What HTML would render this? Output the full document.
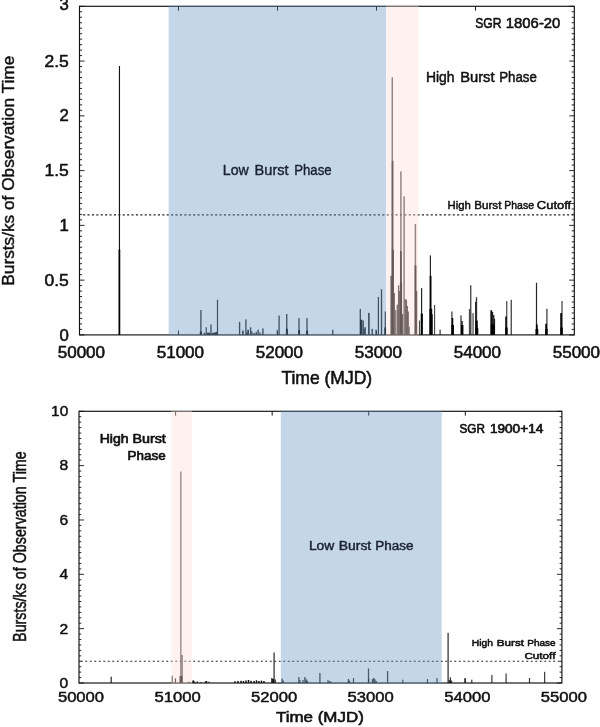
<!DOCTYPE html>
<html lang="en"><head><meta charset="utf-8"><title>SGR burst rate history</title>
<style>html,body{margin:0;padding:0;background:#fff}body{width:600px;height:727px;overflow:hidden}svg{display:block;filter:blur(0.45px)}text{font-family:"Liberation Sans",Arial,Helvetica,sans-serif}</style></head><body>
<svg width="600" height="727" viewBox="0 0 600 727">
<rect width="600" height="727" fill="#fff"/>
<g id="top-chart">
<g id="top-spikes">
<rect x="118.88" y="66.00" width="1.15" height="268.90" fill="#000" fill-opacity="0.92"/>
<rect x="118.55" y="249.50" width="1.70" height="85.40" fill="#000" fill-opacity="0.95"/>
<rect x="200.25" y="310.00" width="1.30" height="24.90" fill="#000" fill-opacity="0.85"/>
<rect x="199.80" y="331.50" width="2.20" height="3.40" fill="#000" fill-opacity="0.95"/>
<rect x="205.65" y="327.25" width="1.20" height="7.65" fill="#000" fill-opacity="0.85"/>
<rect x="210.35" y="324.40" width="1.30" height="10.50" fill="#000" fill-opacity="0.85"/>
<rect x="216.90" y="299.75" width="1.20" height="35.15" fill="#000" fill-opacity="0.85"/>
<rect x="203.75" y="332.80" width="1.50" height="2.10" fill="#000" fill-opacity="0.95"/>
<rect x="207.10" y="332.60" width="2.40" height="2.30" fill="#000" fill-opacity="0.95"/>
<rect x="209.00" y="333.00" width="1.60" height="1.90" fill="#000" fill-opacity="0.95"/>
<rect x="212.10" y="332.80" width="2.20" height="2.10" fill="#000" fill-opacity="0.95"/>
<rect x="214.20" y="332.40" width="2.20" height="2.50" fill="#000" fill-opacity="0.95"/>
<rect x="215.90" y="331.80" width="1.40" height="3.10" fill="#000" fill-opacity="0.85"/>
<rect x="238.95" y="321.90" width="1.30" height="13.00" fill="#000" fill-opacity="0.85"/>
<rect x="242.15" y="330.60" width="1.50" height="4.30" fill="#000" fill-opacity="0.95"/>
<rect x="245.25" y="319.40" width="1.30" height="15.50" fill="#000" fill-opacity="0.85"/>
<rect x="247.30" y="329.75" width="1.60" height="5.15" fill="#000" fill-opacity="0.95"/>
<rect x="249.95" y="327.25" width="1.30" height="7.65" fill="#000" fill-opacity="0.85"/>
<rect x="251.30" y="331.25" width="1.20" height="3.65" fill="#000" fill-opacity="0.85"/>
<rect x="253.50" y="333.00" width="1.40" height="1.90" fill="#000" fill-opacity="0.85"/>
<rect x="255.60" y="331.90" width="1.30" height="3.00" fill="#000" fill-opacity="0.85"/>
<rect x="257.40" y="329.75" width="1.40" height="5.15" fill="#000" fill-opacity="0.85"/>
<rect x="259.35" y="332.50" width="1.30" height="2.40" fill="#000" fill-opacity="0.85"/>
<rect x="262.20" y="328.50" width="1.40" height="6.40" fill="#000" fill-opacity="0.85"/>
<rect x="246.30" y="332.60" width="1.40" height="2.30" fill="#000" fill-opacity="0.85"/>
<rect x="276.55" y="329.75" width="1.10" height="5.15" fill="#000" fill-opacity="0.6"/>
<rect x="278.45" y="315.60" width="1.30" height="19.30" fill="#000" fill-opacity="0.85"/>
<rect x="286.10" y="314.00" width="1.30" height="20.90" fill="#000" fill-opacity="0.85"/>
<rect x="285.90" y="328.75" width="2.00" height="6.15" fill="#000" fill-opacity="0.95"/>
<rect x="298.35" y="318.10" width="1.30" height="16.80" fill="#000" fill-opacity="0.85"/>
<rect x="298.15" y="330.00" width="1.90" height="4.90" fill="#000" fill-opacity="0.95"/>
<rect x="306.35" y="318.10" width="1.30" height="16.80" fill="#000" fill-opacity="0.85"/>
<rect x="306.15" y="330.60" width="1.90" height="4.30" fill="#000" fill-opacity="0.95"/>
<rect x="332.10" y="329.75" width="1.30" height="5.15" fill="#000" fill-opacity="0.85"/>
<rect x="359.65" y="308.90" width="1.30" height="26.00" fill="#000" fill-opacity="0.85"/>
<rect x="360.00" y="319.70" width="2.40" height="15.20" fill="#000" fill-opacity="0.95"/>
<rect x="362.55" y="320.50" width="1.30" height="14.40" fill="#000" fill-opacity="0.85"/>
<rect x="363.55" y="328.50" width="1.30" height="6.40" fill="#000" fill-opacity="0.85"/>
<rect x="364.55" y="327.10" width="1.30" height="7.80" fill="#000" fill-opacity="0.85"/>
<rect x="368.15" y="312.90" width="1.50" height="22.00" fill="#000" fill-opacity="0.95"/>
<rect x="371.50" y="328.80" width="1.40" height="6.10" fill="#000" fill-opacity="0.85"/>
<rect x="375.25" y="329.60" width="1.50" height="5.30" fill="#000" fill-opacity="0.7"/>
<rect x="377.80" y="296.90" width="1.20" height="38.00" fill="#000" fill-opacity="0.85"/>
<rect x="380.85" y="289.30" width="1.30" height="45.60" fill="#000" fill-opacity="0.85"/>
<rect x="384.70" y="311.40" width="1.20" height="23.50" fill="#000" fill-opacity="0.85"/>
<rect x="384.30" y="327.50" width="1.80" height="7.40" fill="#000" fill-opacity="0.95"/>
<rect x="390.45" y="275.80" width="1.50" height="59.10" fill="#000" fill-opacity="0.95"/>
<rect x="391.55" y="77.30" width="1.50" height="257.60" fill="#000" fill-opacity="0.7"/>
<rect x="391.70" y="161.00" width="1.80" height="173.90" fill="#000" fill-opacity="0.8"/>
<rect x="391.85" y="249.60" width="2.10" height="85.30" fill="#000" fill-opacity="0.95"/>
<rect x="393.65" y="293.00" width="1.30" height="41.90" fill="#000" fill-opacity="0.85"/>
<rect x="395.15" y="310.00" width="1.10" height="24.90" fill="#000" fill-opacity="0.85"/>
<rect x="396.65" y="304.60" width="1.30" height="30.30" fill="#000" fill-opacity="0.85"/>
<rect x="397.95" y="285.40" width="1.30" height="49.50" fill="#000" fill-opacity="0.85"/>
<rect x="399.05" y="291.00" width="1.10" height="43.90" fill="#000" fill-opacity="0.85"/>
<rect x="400.15" y="171.40" width="1.50" height="163.50" fill="#000" fill-opacity="0.7"/>
<rect x="400.05" y="251.00" width="1.70" height="83.90" fill="#000" fill-opacity="0.95"/>
<rect x="399.90" y="282.60" width="2.20" height="52.30" fill="#000" fill-opacity="0.95"/>
<rect x="402.00" y="314.00" width="1.20" height="20.90" fill="#000" fill-opacity="0.85"/>
<rect x="403.35" y="196.40" width="1.50" height="138.50" fill="#000" fill-opacity="0.7"/>
<rect x="404.65" y="299.10" width="1.30" height="35.80" fill="#000" fill-opacity="0.85"/>
<rect x="405.75" y="299.80" width="1.30" height="35.10" fill="#000" fill-opacity="0.85"/>
<rect x="406.80" y="306.00" width="1.20" height="28.90" fill="#000" fill-opacity="0.85"/>
<rect x="407.70" y="311.50" width="1.20" height="23.40" fill="#000" fill-opacity="0.85"/>
<rect x="408.65" y="326.60" width="1.10" height="8.30" fill="#000" fill-opacity="0.85"/>
<rect x="414.65" y="224.00" width="1.50" height="110.90" fill="#000" fill-opacity="0.7"/>
<rect x="414.60" y="265.40" width="1.80" height="69.50" fill="#000" fill-opacity="0.95"/>
<rect x="415.95" y="290.90" width="1.30" height="44.00" fill="#000" fill-opacity="0.85"/>
<rect x="418.95" y="320.50" width="1.10" height="14.40" fill="#000" fill-opacity="0.7"/>
<rect x="421.00" y="288.10" width="1.20" height="46.80" fill="#000" fill-opacity="0.85"/>
<rect x="420.70" y="313.60" width="2.20" height="21.30" fill="#000" fill-opacity="0.95"/>
<rect x="429.80" y="255.40" width="1.20" height="79.50" fill="#000" fill-opacity="0.85"/>
<rect x="429.70" y="275.80" width="1.80" height="59.10" fill="#000" fill-opacity="0.95"/>
<rect x="429.40" y="308.80" width="2.80" height="26.10" fill="#000" fill-opacity="0.95"/>
<rect x="431.60" y="314.30" width="1.20" height="20.60" fill="#000" fill-opacity="0.85"/>
<rect x="434.05" y="304.90" width="1.10" height="30.00" fill="#000" fill-opacity="0.75"/>
<rect x="439.50" y="329.70" width="1.20" height="5.20" fill="#000" fill-opacity="0.8"/>
<rect x="451.25" y="311.50" width="1.30" height="23.40" fill="#000" fill-opacity="0.75"/>
<rect x="451.70" y="318.00" width="1.60" height="16.90" fill="#000" fill-opacity="0.95"/>
<rect x="451.40" y="325.00" width="2.60" height="9.90" fill="#000" fill-opacity="0.95"/>
<rect x="460.35" y="315.40" width="1.30" height="19.50" fill="#000" fill-opacity="0.75"/>
<rect x="461.40" y="321.00" width="1.40" height="13.90" fill="#000" fill-opacity="0.85"/>
<rect x="460.95" y="325.00" width="2.50" height="9.90" fill="#000" fill-opacity="0.95"/>
<rect x="468.85" y="309.00" width="1.30" height="25.90" fill="#000" fill-opacity="0.7"/>
<rect x="470.10" y="285.25" width="1.30" height="49.65" fill="#000" fill-opacity="0.75"/>
<rect x="471.85" y="313.10" width="0.90" height="21.80" fill="#000" fill-opacity="0.55"/>
<rect x="473.05" y="313.10" width="0.90" height="21.80" fill="#000" fill-opacity="0.55"/>
<rect x="475.00" y="301.90" width="1.20" height="33.00" fill="#000" fill-opacity="0.8"/>
<rect x="475.85" y="297.25" width="1.30" height="37.65" fill="#000" fill-opacity="0.8"/>
<rect x="475.60" y="320.60" width="2.20" height="14.30" fill="#000" fill-opacity="0.95"/>
<rect x="475.30" y="328.00" width="3.00" height="6.90" fill="#000" fill-opacity="0.95"/>
<rect x="490.35" y="310.25" width="1.80" height="24.65" fill="#000" fill-opacity="0.95"/>
<rect x="491.80" y="311.90" width="1.40" height="23.00" fill="#000" fill-opacity="0.85"/>
<rect x="493.10" y="315.00" width="1.30" height="19.90" fill="#000" fill-opacity="0.85"/>
<rect x="493.90" y="318.75" width="1.20" height="16.15" fill="#000" fill-opacity="0.85"/>
<rect x="490.80" y="324.40" width="3.80" height="10.50" fill="#000" fill-opacity="0.95"/>
<rect x="505.20" y="316.50" width="1.60" height="18.40" fill="#000" fill-opacity="0.95"/>
<rect x="506.15" y="301.00" width="1.20" height="33.90" fill="#000" fill-opacity="0.75"/>
<rect x="505.30" y="327.50" width="2.40" height="7.40" fill="#000" fill-opacity="0.95"/>
<rect x="510.60" y="299.75" width="1.30" height="35.15" fill="#000" fill-opacity="0.75"/>
<rect x="535.90" y="282.75" width="1.20" height="52.15" fill="#000" fill-opacity="0.85"/>
<rect x="535.90" y="324.40" width="1.80" height="10.50" fill="#000" fill-opacity="0.95"/>
<rect x="535.50" y="329.00" width="2.80" height="5.90" fill="#000" fill-opacity="0.95"/>
<rect x="545.20" y="323.75" width="1.80" height="11.15" fill="#000" fill-opacity="0.95"/>
<rect x="546.25" y="308.75" width="1.30" height="26.15" fill="#000" fill-opacity="0.75"/>
<rect x="545.30" y="329.00" width="2.40" height="5.90" fill="#000" fill-opacity="0.95"/>
<rect x="560.20" y="313.10" width="1.80" height="21.80" fill="#000" fill-opacity="0.95"/>
<rect x="561.40" y="301.00" width="1.20" height="33.90" fill="#000" fill-opacity="0.75"/>
<rect x="560.40" y="327.50" width="2.40" height="7.40" fill="#000" fill-opacity="0.95"/>
</g>
<rect x="79.5" y="6.3" width="494.79999999999995" height="328.60" fill="none" stroke="#111" stroke-width="1.15"/>
<line x1="79.50" y1="334.90" x2="84.50" y2="334.90" stroke="#111" stroke-width="0.9" />
<line x1="569.30" y1="334.90" x2="574.30" y2="334.90" stroke="#111" stroke-width="0.9" />
<line x1="79.50" y1="329.42" x2="82.10" y2="329.42" stroke="#111" stroke-width="0.9" />
<line x1="571.70" y1="329.42" x2="574.30" y2="329.42" stroke="#111" stroke-width="0.9" />
<line x1="79.50" y1="323.95" x2="82.10" y2="323.95" stroke="#111" stroke-width="0.9" />
<line x1="571.70" y1="323.95" x2="574.30" y2="323.95" stroke="#111" stroke-width="0.9" />
<line x1="79.50" y1="318.47" x2="82.10" y2="318.47" stroke="#111" stroke-width="0.9" />
<line x1="571.70" y1="318.47" x2="574.30" y2="318.47" stroke="#111" stroke-width="0.9" />
<line x1="79.50" y1="312.99" x2="82.10" y2="312.99" stroke="#111" stroke-width="0.9" />
<line x1="571.70" y1="312.99" x2="574.30" y2="312.99" stroke="#111" stroke-width="0.9" />
<line x1="79.50" y1="307.52" x2="82.10" y2="307.52" stroke="#111" stroke-width="0.9" />
<line x1="571.70" y1="307.52" x2="574.30" y2="307.52" stroke="#111" stroke-width="0.9" />
<line x1="79.50" y1="302.04" x2="82.10" y2="302.04" stroke="#111" stroke-width="0.9" />
<line x1="571.70" y1="302.04" x2="574.30" y2="302.04" stroke="#111" stroke-width="0.9" />
<line x1="79.50" y1="296.56" x2="82.10" y2="296.56" stroke="#111" stroke-width="0.9" />
<line x1="571.70" y1="296.56" x2="574.30" y2="296.56" stroke="#111" stroke-width="0.9" />
<line x1="79.50" y1="291.09" x2="82.10" y2="291.09" stroke="#111" stroke-width="0.9" />
<line x1="571.70" y1="291.09" x2="574.30" y2="291.09" stroke="#111" stroke-width="0.9" />
<line x1="79.50" y1="285.61" x2="82.10" y2="285.61" stroke="#111" stroke-width="0.9" />
<line x1="571.70" y1="285.61" x2="574.30" y2="285.61" stroke="#111" stroke-width="0.9" />
<line x1="79.50" y1="280.13" x2="84.50" y2="280.13" stroke="#111" stroke-width="0.9" />
<line x1="569.30" y1="280.13" x2="574.30" y2="280.13" stroke="#111" stroke-width="0.9" />
<line x1="79.50" y1="274.66" x2="82.10" y2="274.66" stroke="#111" stroke-width="0.9" />
<line x1="571.70" y1="274.66" x2="574.30" y2="274.66" stroke="#111" stroke-width="0.9" />
<line x1="79.50" y1="269.18" x2="82.10" y2="269.18" stroke="#111" stroke-width="0.9" />
<line x1="571.70" y1="269.18" x2="574.30" y2="269.18" stroke="#111" stroke-width="0.9" />
<line x1="79.50" y1="263.70" x2="82.10" y2="263.70" stroke="#111" stroke-width="0.9" />
<line x1="571.70" y1="263.70" x2="574.30" y2="263.70" stroke="#111" stroke-width="0.9" />
<line x1="79.50" y1="258.23" x2="82.10" y2="258.23" stroke="#111" stroke-width="0.9" />
<line x1="571.70" y1="258.23" x2="574.30" y2="258.23" stroke="#111" stroke-width="0.9" />
<line x1="79.50" y1="252.75" x2="82.10" y2="252.75" stroke="#111" stroke-width="0.9" />
<line x1="571.70" y1="252.75" x2="574.30" y2="252.75" stroke="#111" stroke-width="0.9" />
<line x1="79.50" y1="247.27" x2="82.10" y2="247.27" stroke="#111" stroke-width="0.9" />
<line x1="571.70" y1="247.27" x2="574.30" y2="247.27" stroke="#111" stroke-width="0.9" />
<line x1="79.50" y1="241.80" x2="82.10" y2="241.80" stroke="#111" stroke-width="0.9" />
<line x1="571.70" y1="241.80" x2="574.30" y2="241.80" stroke="#111" stroke-width="0.9" />
<line x1="79.50" y1="236.32" x2="82.10" y2="236.32" stroke="#111" stroke-width="0.9" />
<line x1="571.70" y1="236.32" x2="574.30" y2="236.32" stroke="#111" stroke-width="0.9" />
<line x1="79.50" y1="230.84" x2="82.10" y2="230.84" stroke="#111" stroke-width="0.9" />
<line x1="571.70" y1="230.84" x2="574.30" y2="230.84" stroke="#111" stroke-width="0.9" />
<line x1="79.50" y1="225.37" x2="84.50" y2="225.37" stroke="#111" stroke-width="0.9" />
<line x1="569.30" y1="225.37" x2="574.30" y2="225.37" stroke="#111" stroke-width="0.9" />
<line x1="79.50" y1="219.89" x2="82.10" y2="219.89" stroke="#111" stroke-width="0.9" />
<line x1="571.70" y1="219.89" x2="574.30" y2="219.89" stroke="#111" stroke-width="0.9" />
<line x1="79.50" y1="214.41" x2="82.10" y2="214.41" stroke="#111" stroke-width="0.9" />
<line x1="571.70" y1="214.41" x2="574.30" y2="214.41" stroke="#111" stroke-width="0.9" />
<line x1="79.50" y1="208.94" x2="82.10" y2="208.94" stroke="#111" stroke-width="0.9" />
<line x1="571.70" y1="208.94" x2="574.30" y2="208.94" stroke="#111" stroke-width="0.9" />
<line x1="79.50" y1="203.46" x2="82.10" y2="203.46" stroke="#111" stroke-width="0.9" />
<line x1="571.70" y1="203.46" x2="574.30" y2="203.46" stroke="#111" stroke-width="0.9" />
<line x1="79.50" y1="197.98" x2="82.10" y2="197.98" stroke="#111" stroke-width="0.9" />
<line x1="571.70" y1="197.98" x2="574.30" y2="197.98" stroke="#111" stroke-width="0.9" />
<line x1="79.50" y1="192.51" x2="82.10" y2="192.51" stroke="#111" stroke-width="0.9" />
<line x1="571.70" y1="192.51" x2="574.30" y2="192.51" stroke="#111" stroke-width="0.9" />
<line x1="79.50" y1="187.03" x2="82.10" y2="187.03" stroke="#111" stroke-width="0.9" />
<line x1="571.70" y1="187.03" x2="574.30" y2="187.03" stroke="#111" stroke-width="0.9" />
<line x1="79.50" y1="181.55" x2="82.10" y2="181.55" stroke="#111" stroke-width="0.9" />
<line x1="571.70" y1="181.55" x2="574.30" y2="181.55" stroke="#111" stroke-width="0.9" />
<line x1="79.50" y1="176.08" x2="82.10" y2="176.08" stroke="#111" stroke-width="0.9" />
<line x1="571.70" y1="176.08" x2="574.30" y2="176.08" stroke="#111" stroke-width="0.9" />
<line x1="79.50" y1="170.60" x2="84.50" y2="170.60" stroke="#111" stroke-width="0.9" />
<line x1="569.30" y1="170.60" x2="574.30" y2="170.60" stroke="#111" stroke-width="0.9" />
<line x1="79.50" y1="165.12" x2="82.10" y2="165.12" stroke="#111" stroke-width="0.9" />
<line x1="571.70" y1="165.12" x2="574.30" y2="165.12" stroke="#111" stroke-width="0.9" />
<line x1="79.50" y1="159.65" x2="82.10" y2="159.65" stroke="#111" stroke-width="0.9" />
<line x1="571.70" y1="159.65" x2="574.30" y2="159.65" stroke="#111" stroke-width="0.9" />
<line x1="79.50" y1="154.17" x2="82.10" y2="154.17" stroke="#111" stroke-width="0.9" />
<line x1="571.70" y1="154.17" x2="574.30" y2="154.17" stroke="#111" stroke-width="0.9" />
<line x1="79.50" y1="148.69" x2="82.10" y2="148.69" stroke="#111" stroke-width="0.9" />
<line x1="571.70" y1="148.69" x2="574.30" y2="148.69" stroke="#111" stroke-width="0.9" />
<line x1="79.50" y1="143.22" x2="82.10" y2="143.22" stroke="#111" stroke-width="0.9" />
<line x1="571.70" y1="143.22" x2="574.30" y2="143.22" stroke="#111" stroke-width="0.9" />
<line x1="79.50" y1="137.74" x2="82.10" y2="137.74" stroke="#111" stroke-width="0.9" />
<line x1="571.70" y1="137.74" x2="574.30" y2="137.74" stroke="#111" stroke-width="0.9" />
<line x1="79.50" y1="132.26" x2="82.10" y2="132.26" stroke="#111" stroke-width="0.9" />
<line x1="571.70" y1="132.26" x2="574.30" y2="132.26" stroke="#111" stroke-width="0.9" />
<line x1="79.50" y1="126.79" x2="82.10" y2="126.79" stroke="#111" stroke-width="0.9" />
<line x1="571.70" y1="126.79" x2="574.30" y2="126.79" stroke="#111" stroke-width="0.9" />
<line x1="79.50" y1="121.31" x2="82.10" y2="121.31" stroke="#111" stroke-width="0.9" />
<line x1="571.70" y1="121.31" x2="574.30" y2="121.31" stroke="#111" stroke-width="0.9" />
<line x1="79.50" y1="115.83" x2="84.50" y2="115.83" stroke="#111" stroke-width="0.9" />
<line x1="569.30" y1="115.83" x2="574.30" y2="115.83" stroke="#111" stroke-width="0.9" />
<line x1="79.50" y1="110.36" x2="82.10" y2="110.36" stroke="#111" stroke-width="0.9" />
<line x1="571.70" y1="110.36" x2="574.30" y2="110.36" stroke="#111" stroke-width="0.9" />
<line x1="79.50" y1="104.88" x2="82.10" y2="104.88" stroke="#111" stroke-width="0.9" />
<line x1="571.70" y1="104.88" x2="574.30" y2="104.88" stroke="#111" stroke-width="0.9" />
<line x1="79.50" y1="99.40" x2="82.10" y2="99.40" stroke="#111" stroke-width="0.9" />
<line x1="571.70" y1="99.40" x2="574.30" y2="99.40" stroke="#111" stroke-width="0.9" />
<line x1="79.50" y1="93.93" x2="82.10" y2="93.93" stroke="#111" stroke-width="0.9" />
<line x1="571.70" y1="93.93" x2="574.30" y2="93.93" stroke="#111" stroke-width="0.9" />
<line x1="79.50" y1="88.45" x2="82.10" y2="88.45" stroke="#111" stroke-width="0.9" />
<line x1="571.70" y1="88.45" x2="574.30" y2="88.45" stroke="#111" stroke-width="0.9" />
<line x1="79.50" y1="82.97" x2="82.10" y2="82.97" stroke="#111" stroke-width="0.9" />
<line x1="571.70" y1="82.97" x2="574.30" y2="82.97" stroke="#111" stroke-width="0.9" />
<line x1="79.50" y1="77.50" x2="82.10" y2="77.50" stroke="#111" stroke-width="0.9" />
<line x1="571.70" y1="77.50" x2="574.30" y2="77.50" stroke="#111" stroke-width="0.9" />
<line x1="79.50" y1="72.02" x2="82.10" y2="72.02" stroke="#111" stroke-width="0.9" />
<line x1="571.70" y1="72.02" x2="574.30" y2="72.02" stroke="#111" stroke-width="0.9" />
<line x1="79.50" y1="66.54" x2="82.10" y2="66.54" stroke="#111" stroke-width="0.9" />
<line x1="571.70" y1="66.54" x2="574.30" y2="66.54" stroke="#111" stroke-width="0.9" />
<line x1="79.50" y1="61.07" x2="84.50" y2="61.07" stroke="#111" stroke-width="0.9" />
<line x1="569.30" y1="61.07" x2="574.30" y2="61.07" stroke="#111" stroke-width="0.9" />
<line x1="79.50" y1="55.59" x2="82.10" y2="55.59" stroke="#111" stroke-width="0.9" />
<line x1="571.70" y1="55.59" x2="574.30" y2="55.59" stroke="#111" stroke-width="0.9" />
<line x1="79.50" y1="50.11" x2="82.10" y2="50.11" stroke="#111" stroke-width="0.9" />
<line x1="571.70" y1="50.11" x2="574.30" y2="50.11" stroke="#111" stroke-width="0.9" />
<line x1="79.50" y1="44.64" x2="82.10" y2="44.64" stroke="#111" stroke-width="0.9" />
<line x1="571.70" y1="44.64" x2="574.30" y2="44.64" stroke="#111" stroke-width="0.9" />
<line x1="79.50" y1="39.16" x2="82.10" y2="39.16" stroke="#111" stroke-width="0.9" />
<line x1="571.70" y1="39.16" x2="574.30" y2="39.16" stroke="#111" stroke-width="0.9" />
<line x1="79.50" y1="33.68" x2="82.10" y2="33.68" stroke="#111" stroke-width="0.9" />
<line x1="571.70" y1="33.68" x2="574.30" y2="33.68" stroke="#111" stroke-width="0.9" />
<line x1="79.50" y1="28.21" x2="82.10" y2="28.21" stroke="#111" stroke-width="0.9" />
<line x1="571.70" y1="28.21" x2="574.30" y2="28.21" stroke="#111" stroke-width="0.9" />
<line x1="79.50" y1="22.73" x2="82.10" y2="22.73" stroke="#111" stroke-width="0.9" />
<line x1="571.70" y1="22.73" x2="574.30" y2="22.73" stroke="#111" stroke-width="0.9" />
<line x1="79.50" y1="17.25" x2="82.10" y2="17.25" stroke="#111" stroke-width="0.9" />
<line x1="571.70" y1="17.25" x2="574.30" y2="17.25" stroke="#111" stroke-width="0.9" />
<line x1="79.50" y1="11.78" x2="82.10" y2="11.78" stroke="#111" stroke-width="0.9" />
<line x1="571.70" y1="11.78" x2="574.30" y2="11.78" stroke="#111" stroke-width="0.9" />
<line x1="79.50" y1="6.30" x2="84.50" y2="6.30" stroke="#111" stroke-width="0.9" />
<line x1="569.30" y1="6.30" x2="574.30" y2="6.30" stroke="#111" stroke-width="0.9" />
<line x1="178.50" y1="330.60" x2="178.50" y2="334.90" stroke="#111" stroke-width="1.0" />
<line x1="178.50" y1="6.30" x2="178.50" y2="10.60" stroke="#111" stroke-width="1.0" />
<line x1="277.50" y1="330.60" x2="277.50" y2="334.90" stroke="#111" stroke-width="1.0" />
<line x1="277.50" y1="6.30" x2="277.50" y2="10.60" stroke="#111" stroke-width="1.0" />
<line x1="376.50" y1="330.60" x2="376.50" y2="334.90" stroke="#111" stroke-width="1.0" />
<line x1="376.50" y1="6.30" x2="376.50" y2="10.60" stroke="#111" stroke-width="1.0" />
<line x1="475.50" y1="330.60" x2="475.50" y2="334.90" stroke="#111" stroke-width="1.0" />
<line x1="475.50" y1="6.30" x2="475.50" y2="10.60" stroke="#111" stroke-width="1.0" />
<line x1="83.10" y1="214.90" x2="574.30" y2="214.90" stroke="#222" stroke-width="1.1" stroke-dasharray="2.1 2.3"/>
<rect x="168.6" y="5.7" width="217.4" height="329.8" fill="#6894c6" fill-opacity="0.385"/>
<rect x="386.0" y="5.7" width="32.7" height="329.8" fill="#fcdeda" fill-opacity="0.40"/>
</g>
<g id="bottom-chart">
<g id="bottom-spikes">
<rect x="110.55" y="676.70" width="1.30" height="6.30" fill="#000" fill-opacity="0.78"/>
<rect x="171.65" y="675.70" width="1.20" height="7.30" fill="#000" fill-opacity="0.78"/>
<rect x="174.80" y="678.40" width="1.20" height="4.60" fill="#000" fill-opacity="0.78"/>
<rect x="180.05" y="471.50" width="1.50" height="211.50" fill="#000" fill-opacity="0.62"/>
<rect x="179.50" y="676.00" width="3.00" height="7.00" fill="#000" fill-opacity="0.95"/>
<rect x="181.45" y="655.00" width="1.30" height="28.00" fill="#000" fill-opacity="0.78"/>
<rect x="188.40" y="681.50" width="1.20" height="1.50" fill="#000" fill-opacity="0.78"/>
<rect x="192.40" y="680.40" width="1.80" height="2.60" fill="#000" fill-opacity="0.95"/>
<rect x="194.20" y="681.60" width="1.20" height="1.40" fill="#000" fill-opacity="0.78"/>
<rect x="196.60" y="681.40" width="1.40" height="1.60" fill="#000" fill-opacity="0.78"/>
<rect x="200.40" y="681.90" width="1.20" height="1.10" fill="#000" fill-opacity="0.78"/>
<rect x="204.60" y="681.60" width="1.20" height="1.40" fill="#000" fill-opacity="0.78"/>
<rect x="205.40" y="681.00" width="1.80" height="2.00" fill="#000" fill-opacity="0.95"/>
<rect x="208.40" y="681.60" width="1.20" height="1.40" fill="#000" fill-opacity="0.78"/>
<rect x="234.25" y="681.30" width="1.50" height="1.70" fill="#000" fill-opacity="0.95"/>
<rect x="237.25" y="681.00" width="1.50" height="2.00" fill="#000" fill-opacity="0.95"/>
<rect x="240.25" y="680.80" width="1.50" height="2.20" fill="#000" fill-opacity="0.95"/>
<rect x="242.75" y="681.00" width="1.50" height="2.00" fill="#000" fill-opacity="0.95"/>
<rect x="245.25" y="680.50" width="1.50" height="2.50" fill="#000" fill-opacity="0.95"/>
<rect x="247.75" y="680.00" width="1.50" height="3.00" fill="#000" fill-opacity="0.95"/>
<rect x="250.25" y="680.80" width="1.50" height="2.20" fill="#000" fill-opacity="0.95"/>
<rect x="253.25" y="681.00" width="1.50" height="2.00" fill="#000" fill-opacity="0.95"/>
<rect x="255.75" y="680.30" width="1.50" height="2.70" fill="#000" fill-opacity="0.95"/>
<rect x="258.25" y="681.00" width="1.50" height="2.00" fill="#000" fill-opacity="0.95"/>
<rect x="260.75" y="680.60" width="1.50" height="2.40" fill="#000" fill-opacity="0.95"/>
<rect x="263.25" y="681.00" width="1.50" height="2.00" fill="#000" fill-opacity="0.95"/>
<rect x="271.20" y="678.00" width="1.20" height="5.00" fill="#000" fill-opacity="0.78"/>
<rect x="273.45" y="652.50" width="1.30" height="30.50" fill="#000" fill-opacity="0.78"/>
<rect x="272.45" y="679.00" width="1.50" height="4.00" fill="#000" fill-opacity="0.95"/>
<rect x="274.70" y="679.50" width="1.20" height="3.50" fill="#000" fill-opacity="0.78"/>
<rect x="281.40" y="678.60" width="1.40" height="4.40" fill="#000" fill-opacity="0.78"/>
<rect x="282.70" y="680.50" width="1.20" height="2.50" fill="#000" fill-opacity="0.78"/>
<rect x="298.25" y="677.10" width="1.30" height="5.90" fill="#000" fill-opacity="0.78"/>
<rect x="299.30" y="680.00" width="1.20" height="3.00" fill="#000" fill-opacity="0.78"/>
<rect x="302.35" y="680.00" width="1.30" height="3.00" fill="#000" fill-opacity="0.78"/>
<rect x="304.20" y="677.10" width="1.40" height="5.90" fill="#000" fill-opacity="0.78"/>
<rect x="305.60" y="679.30" width="1.40" height="3.70" fill="#000" fill-opacity="0.78"/>
<rect x="306.90" y="680.80" width="1.20" height="2.20" fill="#000" fill-opacity="0.78"/>
<rect x="319.25" y="672.90" width="1.30" height="10.10" fill="#000" fill-opacity="0.78"/>
<rect x="327.40" y="680.00" width="1.20" height="3.00" fill="#000" fill-opacity="0.78"/>
<rect x="328.90" y="681.00" width="1.20" height="2.00" fill="#000" fill-opacity="0.78"/>
<rect x="330.50" y="681.30" width="1.00" height="1.70" fill="#000" fill-opacity="0.78"/>
<rect x="347.75" y="679.00" width="1.30" height="4.00" fill="#000" fill-opacity="0.78"/>
<rect x="349.00" y="680.60" width="1.20" height="2.40" fill="#000" fill-opacity="0.78"/>
<rect x="352.90" y="678.00" width="1.20" height="5.00" fill="#000" fill-opacity="0.78"/>
<rect x="367.85" y="668.40" width="1.30" height="14.60" fill="#000" fill-opacity="0.78"/>
<rect x="371.85" y="679.00" width="1.30" height="4.00" fill="#000" fill-opacity="0.78"/>
<rect x="373.10" y="678.00" width="1.40" height="5.00" fill="#000" fill-opacity="0.78"/>
<rect x="374.35" y="679.30" width="1.30" height="3.70" fill="#000" fill-opacity="0.78"/>
<rect x="375.60" y="680.80" width="1.20" height="2.20" fill="#000" fill-opacity="0.78"/>
<rect x="386.95" y="671.10" width="1.30" height="11.90" fill="#000" fill-opacity="0.78"/>
<rect x="402.20" y="679.70" width="1.20" height="3.30" fill="#000" fill-opacity="0.78"/>
<rect x="426.90" y="679.00" width="1.20" height="4.00" fill="#000" fill-opacity="0.78"/>
<rect x="436.40" y="678.00" width="1.20" height="5.00" fill="#000" fill-opacity="0.78"/>
<rect x="447.45" y="632.80" width="1.30" height="50.20" fill="#000" fill-opacity="0.78"/>
<rect x="448.65" y="680.00" width="1.30" height="3.00" fill="#000" fill-opacity="0.78"/>
<rect x="449.75" y="677.40" width="1.30" height="5.60" fill="#000" fill-opacity="0.78"/>
<rect x="451.00" y="680.50" width="1.20" height="2.50" fill="#000" fill-opacity="0.78"/>
<rect x="464.30" y="678.00" width="1.20" height="5.00" fill="#000" fill-opacity="0.78"/>
<rect x="471.20" y="679.70" width="1.20" height="3.30" fill="#000" fill-opacity="0.78"/>
<rect x="491.30" y="675.00" width="1.20" height="8.00" fill="#000" fill-opacity="0.78"/>
<rect x="505.50" y="673.40" width="1.20" height="9.60" fill="#000" fill-opacity="0.78"/>
<rect x="528.90" y="678.00" width="1.20" height="5.00" fill="#000" fill-opacity="0.78"/>
<rect x="544.05" y="671.80" width="1.20" height="11.20" fill="#000" fill-opacity="0.78"/>
</g>
<rect x="79.0" y="411.3" width="482.9" height="271.70" fill="none" stroke="#111" stroke-width="1.15"/>
<line x1="79.00" y1="683.00" x2="84.00" y2="683.00" stroke="#111" stroke-width="0.9" />
<line x1="556.90" y1="683.00" x2="561.90" y2="683.00" stroke="#111" stroke-width="0.9" />
<line x1="79.00" y1="677.57" x2="81.30" y2="677.57" stroke="#111" stroke-width="0.9" />
<line x1="559.60" y1="677.57" x2="561.90" y2="677.57" stroke="#111" stroke-width="0.9" />
<line x1="79.00" y1="672.13" x2="81.30" y2="672.13" stroke="#111" stroke-width="0.9" />
<line x1="559.60" y1="672.13" x2="561.90" y2="672.13" stroke="#111" stroke-width="0.9" />
<line x1="79.00" y1="666.70" x2="81.30" y2="666.70" stroke="#111" stroke-width="0.9" />
<line x1="559.60" y1="666.70" x2="561.90" y2="666.70" stroke="#111" stroke-width="0.9" />
<line x1="79.00" y1="661.26" x2="81.30" y2="661.26" stroke="#111" stroke-width="0.9" />
<line x1="559.60" y1="661.26" x2="561.90" y2="661.26" stroke="#111" stroke-width="0.9" />
<line x1="79.00" y1="655.83" x2="81.30" y2="655.83" stroke="#111" stroke-width="0.9" />
<line x1="559.60" y1="655.83" x2="561.90" y2="655.83" stroke="#111" stroke-width="0.9" />
<line x1="79.00" y1="650.40" x2="81.30" y2="650.40" stroke="#111" stroke-width="0.9" />
<line x1="559.60" y1="650.40" x2="561.90" y2="650.40" stroke="#111" stroke-width="0.9" />
<line x1="79.00" y1="644.96" x2="81.30" y2="644.96" stroke="#111" stroke-width="0.9" />
<line x1="559.60" y1="644.96" x2="561.90" y2="644.96" stroke="#111" stroke-width="0.9" />
<line x1="79.00" y1="639.53" x2="81.30" y2="639.53" stroke="#111" stroke-width="0.9" />
<line x1="559.60" y1="639.53" x2="561.90" y2="639.53" stroke="#111" stroke-width="0.9" />
<line x1="79.00" y1="634.09" x2="81.30" y2="634.09" stroke="#111" stroke-width="0.9" />
<line x1="559.60" y1="634.09" x2="561.90" y2="634.09" stroke="#111" stroke-width="0.9" />
<line x1="79.00" y1="628.66" x2="84.00" y2="628.66" stroke="#111" stroke-width="0.9" />
<line x1="556.90" y1="628.66" x2="561.90" y2="628.66" stroke="#111" stroke-width="0.9" />
<line x1="79.00" y1="623.23" x2="81.30" y2="623.23" stroke="#111" stroke-width="0.9" />
<line x1="559.60" y1="623.23" x2="561.90" y2="623.23" stroke="#111" stroke-width="0.9" />
<line x1="79.00" y1="617.79" x2="81.30" y2="617.79" stroke="#111" stroke-width="0.9" />
<line x1="559.60" y1="617.79" x2="561.90" y2="617.79" stroke="#111" stroke-width="0.9" />
<line x1="79.00" y1="612.36" x2="81.30" y2="612.36" stroke="#111" stroke-width="0.9" />
<line x1="559.60" y1="612.36" x2="561.90" y2="612.36" stroke="#111" stroke-width="0.9" />
<line x1="79.00" y1="606.92" x2="81.30" y2="606.92" stroke="#111" stroke-width="0.9" />
<line x1="559.60" y1="606.92" x2="561.90" y2="606.92" stroke="#111" stroke-width="0.9" />
<line x1="79.00" y1="601.49" x2="81.30" y2="601.49" stroke="#111" stroke-width="0.9" />
<line x1="559.60" y1="601.49" x2="561.90" y2="601.49" stroke="#111" stroke-width="0.9" />
<line x1="79.00" y1="596.06" x2="81.30" y2="596.06" stroke="#111" stroke-width="0.9" />
<line x1="559.60" y1="596.06" x2="561.90" y2="596.06" stroke="#111" stroke-width="0.9" />
<line x1="79.00" y1="590.62" x2="81.30" y2="590.62" stroke="#111" stroke-width="0.9" />
<line x1="559.60" y1="590.62" x2="561.90" y2="590.62" stroke="#111" stroke-width="0.9" />
<line x1="79.00" y1="585.19" x2="81.30" y2="585.19" stroke="#111" stroke-width="0.9" />
<line x1="559.60" y1="585.19" x2="561.90" y2="585.19" stroke="#111" stroke-width="0.9" />
<line x1="79.00" y1="579.75" x2="81.30" y2="579.75" stroke="#111" stroke-width="0.9" />
<line x1="559.60" y1="579.75" x2="561.90" y2="579.75" stroke="#111" stroke-width="0.9" />
<line x1="79.00" y1="574.32" x2="84.00" y2="574.32" stroke="#111" stroke-width="0.9" />
<line x1="556.90" y1="574.32" x2="561.90" y2="574.32" stroke="#111" stroke-width="0.9" />
<line x1="79.00" y1="568.89" x2="81.30" y2="568.89" stroke="#111" stroke-width="0.9" />
<line x1="559.60" y1="568.89" x2="561.90" y2="568.89" stroke="#111" stroke-width="0.9" />
<line x1="79.00" y1="563.45" x2="81.30" y2="563.45" stroke="#111" stroke-width="0.9" />
<line x1="559.60" y1="563.45" x2="561.90" y2="563.45" stroke="#111" stroke-width="0.9" />
<line x1="79.00" y1="558.02" x2="81.30" y2="558.02" stroke="#111" stroke-width="0.9" />
<line x1="559.60" y1="558.02" x2="561.90" y2="558.02" stroke="#111" stroke-width="0.9" />
<line x1="79.00" y1="552.58" x2="81.30" y2="552.58" stroke="#111" stroke-width="0.9" />
<line x1="559.60" y1="552.58" x2="561.90" y2="552.58" stroke="#111" stroke-width="0.9" />
<line x1="79.00" y1="547.15" x2="81.30" y2="547.15" stroke="#111" stroke-width="0.9" />
<line x1="559.60" y1="547.15" x2="561.90" y2="547.15" stroke="#111" stroke-width="0.9" />
<line x1="79.00" y1="541.72" x2="81.30" y2="541.72" stroke="#111" stroke-width="0.9" />
<line x1="559.60" y1="541.72" x2="561.90" y2="541.72" stroke="#111" stroke-width="0.9" />
<line x1="79.00" y1="536.28" x2="81.30" y2="536.28" stroke="#111" stroke-width="0.9" />
<line x1="559.60" y1="536.28" x2="561.90" y2="536.28" stroke="#111" stroke-width="0.9" />
<line x1="79.00" y1="530.85" x2="81.30" y2="530.85" stroke="#111" stroke-width="0.9" />
<line x1="559.60" y1="530.85" x2="561.90" y2="530.85" stroke="#111" stroke-width="0.9" />
<line x1="79.00" y1="525.41" x2="81.30" y2="525.41" stroke="#111" stroke-width="0.9" />
<line x1="559.60" y1="525.41" x2="561.90" y2="525.41" stroke="#111" stroke-width="0.9" />
<line x1="79.00" y1="519.98" x2="84.00" y2="519.98" stroke="#111" stroke-width="0.9" />
<line x1="556.90" y1="519.98" x2="561.90" y2="519.98" stroke="#111" stroke-width="0.9" />
<line x1="79.00" y1="514.55" x2="81.30" y2="514.55" stroke="#111" stroke-width="0.9" />
<line x1="559.60" y1="514.55" x2="561.90" y2="514.55" stroke="#111" stroke-width="0.9" />
<line x1="79.00" y1="509.11" x2="81.30" y2="509.11" stroke="#111" stroke-width="0.9" />
<line x1="559.60" y1="509.11" x2="561.90" y2="509.11" stroke="#111" stroke-width="0.9" />
<line x1="79.00" y1="503.68" x2="81.30" y2="503.68" stroke="#111" stroke-width="0.9" />
<line x1="559.60" y1="503.68" x2="561.90" y2="503.68" stroke="#111" stroke-width="0.9" />
<line x1="79.00" y1="498.24" x2="81.30" y2="498.24" stroke="#111" stroke-width="0.9" />
<line x1="559.60" y1="498.24" x2="561.90" y2="498.24" stroke="#111" stroke-width="0.9" />
<line x1="79.00" y1="492.81" x2="81.30" y2="492.81" stroke="#111" stroke-width="0.9" />
<line x1="559.60" y1="492.81" x2="561.90" y2="492.81" stroke="#111" stroke-width="0.9" />
<line x1="79.00" y1="487.38" x2="81.30" y2="487.38" stroke="#111" stroke-width="0.9" />
<line x1="559.60" y1="487.38" x2="561.90" y2="487.38" stroke="#111" stroke-width="0.9" />
<line x1="79.00" y1="481.94" x2="81.30" y2="481.94" stroke="#111" stroke-width="0.9" />
<line x1="559.60" y1="481.94" x2="561.90" y2="481.94" stroke="#111" stroke-width="0.9" />
<line x1="79.00" y1="476.51" x2="81.30" y2="476.51" stroke="#111" stroke-width="0.9" />
<line x1="559.60" y1="476.51" x2="561.90" y2="476.51" stroke="#111" stroke-width="0.9" />
<line x1="79.00" y1="471.07" x2="81.30" y2="471.07" stroke="#111" stroke-width="0.9" />
<line x1="559.60" y1="471.07" x2="561.90" y2="471.07" stroke="#111" stroke-width="0.9" />
<line x1="79.00" y1="465.64" x2="84.00" y2="465.64" stroke="#111" stroke-width="0.9" />
<line x1="556.90" y1="465.64" x2="561.90" y2="465.64" stroke="#111" stroke-width="0.9" />
<line x1="79.00" y1="460.21" x2="81.30" y2="460.21" stroke="#111" stroke-width="0.9" />
<line x1="559.60" y1="460.21" x2="561.90" y2="460.21" stroke="#111" stroke-width="0.9" />
<line x1="79.00" y1="454.77" x2="81.30" y2="454.77" stroke="#111" stroke-width="0.9" />
<line x1="559.60" y1="454.77" x2="561.90" y2="454.77" stroke="#111" stroke-width="0.9" />
<line x1="79.00" y1="449.34" x2="81.30" y2="449.34" stroke="#111" stroke-width="0.9" />
<line x1="559.60" y1="449.34" x2="561.90" y2="449.34" stroke="#111" stroke-width="0.9" />
<line x1="79.00" y1="443.90" x2="81.30" y2="443.90" stroke="#111" stroke-width="0.9" />
<line x1="559.60" y1="443.90" x2="561.90" y2="443.90" stroke="#111" stroke-width="0.9" />
<line x1="79.00" y1="438.47" x2="81.30" y2="438.47" stroke="#111" stroke-width="0.9" />
<line x1="559.60" y1="438.47" x2="561.90" y2="438.47" stroke="#111" stroke-width="0.9" />
<line x1="79.00" y1="433.04" x2="81.30" y2="433.04" stroke="#111" stroke-width="0.9" />
<line x1="559.60" y1="433.04" x2="561.90" y2="433.04" stroke="#111" stroke-width="0.9" />
<line x1="79.00" y1="427.60" x2="81.30" y2="427.60" stroke="#111" stroke-width="0.9" />
<line x1="559.60" y1="427.60" x2="561.90" y2="427.60" stroke="#111" stroke-width="0.9" />
<line x1="79.00" y1="422.17" x2="81.30" y2="422.17" stroke="#111" stroke-width="0.9" />
<line x1="559.60" y1="422.17" x2="561.90" y2="422.17" stroke="#111" stroke-width="0.9" />
<line x1="79.00" y1="416.73" x2="81.30" y2="416.73" stroke="#111" stroke-width="0.9" />
<line x1="559.60" y1="416.73" x2="561.90" y2="416.73" stroke="#111" stroke-width="0.9" />
<line x1="79.00" y1="411.30" x2="84.00" y2="411.30" stroke="#111" stroke-width="0.9" />
<line x1="556.90" y1="411.30" x2="561.90" y2="411.30" stroke="#111" stroke-width="0.9" />
<line x1="175.58" y1="678.70" x2="175.58" y2="683.00" stroke="#111" stroke-width="1.0" />
<line x1="175.58" y1="411.30" x2="175.58" y2="415.60" stroke="#111" stroke-width="1.0" />
<line x1="272.16" y1="678.70" x2="272.16" y2="683.00" stroke="#111" stroke-width="1.0" />
<line x1="272.16" y1="411.30" x2="272.16" y2="415.60" stroke="#111" stroke-width="1.0" />
<line x1="368.74" y1="678.70" x2="368.74" y2="683.00" stroke="#111" stroke-width="1.0" />
<line x1="368.74" y1="411.30" x2="368.74" y2="415.60" stroke="#111" stroke-width="1.0" />
<line x1="465.32" y1="678.70" x2="465.32" y2="683.00" stroke="#111" stroke-width="1.0" />
<line x1="465.32" y1="411.30" x2="465.32" y2="415.60" stroke="#111" stroke-width="1.0" />
<line x1="80.80" y1="661.20" x2="561.90" y2="661.20" stroke="#222" stroke-width="1.1" stroke-dasharray="1.9 2.6"/>
<rect x="280.8" y="410.7" width="160.9" height="272.9" fill="#6894c6" fill-opacity="0.385"/>
<rect x="171.3" y="410.7" width="20.5" height="272.9" fill="#fcdeda" fill-opacity="0.40"/>
</g>
<g id="labels">
<text x="59.5" y="10.2" font-size="16.1" fill="#111" text-anchor="start" textLength="9.3" lengthAdjust="spacingAndGlyphs" stroke="#111" stroke-width="0.55" stroke-linejoin="round" >3</text>
<text x="44.5" y="66.6" font-size="16.1" fill="#111" text-anchor="start" textLength="24.3" lengthAdjust="spacingAndGlyphs" stroke="#111" stroke-width="0.55" stroke-linejoin="round" >2.5</text>
<text x="59.5" y="121.4" font-size="16.1" fill="#111" text-anchor="start" textLength="9.3" lengthAdjust="spacingAndGlyphs" stroke="#111" stroke-width="0.55" stroke-linejoin="round" >2</text>
<text x="44.5" y="176.2" font-size="16.1" fill="#111" text-anchor="start" textLength="24.3" lengthAdjust="spacingAndGlyphs" stroke="#111" stroke-width="0.55" stroke-linejoin="round" >1.5</text>
<text x="59.5" y="230.9" font-size="16.1" fill="#111" text-anchor="start" textLength="9.3" lengthAdjust="spacingAndGlyphs" stroke="#111" stroke-width="0.55" stroke-linejoin="round" >1</text>
<text x="44.5" y="285.7" font-size="16.1" fill="#111" text-anchor="start" textLength="24.3" lengthAdjust="spacingAndGlyphs" stroke="#111" stroke-width="0.55" stroke-linejoin="round" >0.5</text>
<text x="59.5" y="340.5" font-size="16.1" fill="#111" text-anchor="start" textLength="9.3" lengthAdjust="spacingAndGlyphs" stroke="#111" stroke-width="0.55" stroke-linejoin="round" >0</text>
<text x="57.7" y="357.6" font-size="16.0" fill="#111" text-anchor="start" textLength="47.4" lengthAdjust="spacingAndGlyphs" stroke="#111" stroke-width="0.55" stroke-linejoin="round" >50000</text>
<text x="156.7" y="357.6" font-size="16.0" fill="#111" text-anchor="start" textLength="47.4" lengthAdjust="spacingAndGlyphs" stroke="#111" stroke-width="0.55" stroke-linejoin="round" >51000</text>
<text x="255.7" y="357.6" font-size="16.0" fill="#111" text-anchor="start" textLength="47.4" lengthAdjust="spacingAndGlyphs" stroke="#111" stroke-width="0.55" stroke-linejoin="round" >52000</text>
<text x="354.7" y="357.6" font-size="16.0" fill="#111" text-anchor="start" textLength="47.4" lengthAdjust="spacingAndGlyphs" stroke="#111" stroke-width="0.55" stroke-linejoin="round" >53000</text>
<text x="453.7" y="357.6" font-size="16.0" fill="#111" text-anchor="start" textLength="47.4" lengthAdjust="spacingAndGlyphs" stroke="#111" stroke-width="0.55" stroke-linejoin="round" >54000</text>
<text x="552.7" y="357.6" font-size="16.0" fill="#111" text-anchor="start" textLength="47.4" lengthAdjust="spacingAndGlyphs" stroke="#111" stroke-width="0.55" stroke-linejoin="round" >55000</text>
<text x="281.4" y="384.0" font-size="17.6" fill="#111" text-anchor="start" textLength="90.8" lengthAdjust="spacingAndGlyphs" stroke="#111" stroke-width="0.55" stroke-linejoin="round" >Time (MJD)</text>
<text transform="translate(13.6,170.7) rotate(-90)" font-size="17.3" text-anchor="middle" fill="#111" stroke="#111" stroke-width="0.45" textLength="230" lengthAdjust="spacingAndGlyphs">Bursts/ks of Observation Time</text>
<text y="28.3" font-size="15.3" fill="#111" stroke="#111" stroke-width="0.6" stroke-linejoin="round" xml:space="preserve"><tspan x="475.2" textLength="26.4" lengthAdjust="spacingAndGlyphs">SGR</tspan><tspan x="501.6" textLength="4.2" lengthAdjust="spacingAndGlyphs"> </tspan><tspan x="505.8" textLength="54.6" lengthAdjust="spacingAndGlyphs">1806-20</tspan></text>
<text y="81.7" font-size="14.6" fill="#111" stroke="#111" stroke-width="0.5" stroke-linejoin="round" xml:space="preserve"><tspan x="425.9" textLength="28.6" lengthAdjust="spacingAndGlyphs">High</tspan><tspan x="454.5" textLength="5.7" lengthAdjust="spacingAndGlyphs"> </tspan><tspan x="460.2" textLength="34.4" lengthAdjust="spacingAndGlyphs">Burst</tspan><tspan x="494.6" textLength="4.6" lengthAdjust="spacingAndGlyphs"> </tspan><tspan x="499.2" textLength="37.6" lengthAdjust="spacingAndGlyphs">Phase</tspan></text>
<text y="174.8" font-size="14.3" fill="#1a2232" stroke="#1a2232" stroke-width="0.4" stroke-linejoin="round" xml:space="preserve"><tspan x="222.8" textLength="26.0" lengthAdjust="spacingAndGlyphs">Low</tspan><tspan x="248.8" textLength="5.8" lengthAdjust="spacingAndGlyphs"> </tspan><tspan x="254.6" textLength="34.0" lengthAdjust="spacingAndGlyphs">Burst</tspan><tspan x="288.6" textLength="5.6" lengthAdjust="spacingAndGlyphs"> </tspan><tspan x="294.2" textLength="37.4" lengthAdjust="spacingAndGlyphs">Phase</tspan></text>
<text y="209.3" font-size="11.4" fill="#111" stroke="#111" stroke-width="0.5" stroke-linejoin="round" xml:space="preserve"><tspan x="447.5" textLength="23.4" lengthAdjust="spacingAndGlyphs">High</tspan><tspan x="470.9" textLength="3.3" lengthAdjust="spacingAndGlyphs"> </tspan><tspan x="474.2" textLength="27.2" lengthAdjust="spacingAndGlyphs">Burst</tspan><tspan x="501.4" textLength="2.8" lengthAdjust="spacingAndGlyphs"> </tspan><tspan x="504.2" textLength="29.8" lengthAdjust="spacingAndGlyphs">Phase</tspan><tspan x="534.0" textLength="2.8" lengthAdjust="spacingAndGlyphs"> </tspan><tspan x="536.8" textLength="34.4" lengthAdjust="spacingAndGlyphs">Cutoff</tspan></text>
<text x="51.1" y="416.1" font-size="13.8" fill="#111" text-anchor="start" textLength="17.2" lengthAdjust="spacingAndGlyphs" stroke="#111" stroke-width="0.45" stroke-linejoin="round" >10</text>
<text x="59.6" y="470.4" font-size="13.8" fill="#111" text-anchor="start" textLength="8.7" lengthAdjust="spacingAndGlyphs" stroke="#111" stroke-width="0.45" stroke-linejoin="round" >8</text>
<text x="59.6" y="524.8" font-size="13.8" fill="#111" text-anchor="start" textLength="8.7" lengthAdjust="spacingAndGlyphs" stroke="#111" stroke-width="0.45" stroke-linejoin="round" >6</text>
<text x="59.6" y="579.1" font-size="13.8" fill="#111" text-anchor="start" textLength="8.7" lengthAdjust="spacingAndGlyphs" stroke="#111" stroke-width="0.45" stroke-linejoin="round" >4</text>
<text x="59.6" y="633.5" font-size="13.8" fill="#111" text-anchor="start" textLength="8.7" lengthAdjust="spacingAndGlyphs" stroke="#111" stroke-width="0.45" stroke-linejoin="round" >2</text>
<text x="59.6" y="687.8" font-size="13.8" fill="#111" text-anchor="start" textLength="8.7" lengthAdjust="spacingAndGlyphs" stroke="#111" stroke-width="0.45" stroke-linejoin="round" >0</text>
<text x="57.9" y="701.8" font-size="13.8" fill="#111" text-anchor="start" textLength="46.2" lengthAdjust="spacingAndGlyphs" stroke="#111" stroke-width="0.45" stroke-linejoin="round" >50000</text>
<text x="154.5" y="701.8" font-size="13.8" fill="#111" text-anchor="start" textLength="46.2" lengthAdjust="spacingAndGlyphs" stroke="#111" stroke-width="0.45" stroke-linejoin="round" >51000</text>
<text x="251.1" y="701.8" font-size="13.8" fill="#111" text-anchor="start" textLength="46.2" lengthAdjust="spacingAndGlyphs" stroke="#111" stroke-width="0.45" stroke-linejoin="round" >52000</text>
<text x="347.6" y="701.8" font-size="13.8" fill="#111" text-anchor="start" textLength="46.2" lengthAdjust="spacingAndGlyphs" stroke="#111" stroke-width="0.45" stroke-linejoin="round" >53000</text>
<text x="444.2" y="701.8" font-size="13.8" fill="#111" text-anchor="start" textLength="46.2" lengthAdjust="spacingAndGlyphs" stroke="#111" stroke-width="0.45" stroke-linejoin="round" >54000</text>
<text x="540.8" y="701.8" font-size="13.8" fill="#111" text-anchor="start" textLength="46.2" lengthAdjust="spacingAndGlyphs" stroke="#111" stroke-width="0.45" stroke-linejoin="round" >55000</text>
<text x="276.0" y="722.3" font-size="13.8" fill="#111" text-anchor="start" textLength="87.8" lengthAdjust="spacingAndGlyphs" stroke="#111" stroke-width="0.55" stroke-linejoin="round" >Time (MJD)</text>
<text transform="translate(26.0,546.6) rotate(-90) scale(1,1.24)" font-size="14.5" text-anchor="middle" fill="#111" stroke="#111" stroke-width="0.4" textLength="190.6" lengthAdjust="spacingAndGlyphs">Bursts/ks of Observation Time</text>
<text y="432.9" font-size="12.2" fill="#111" stroke="#111" stroke-width="0.65" stroke-linejoin="round" xml:space="preserve"><tspan x="459.5" textLength="25.4" lengthAdjust="spacingAndGlyphs">SGR</tspan><tspan x="484.9" textLength="5.0" lengthAdjust="spacingAndGlyphs"> </tspan><tspan x="489.9" textLength="53.4" lengthAdjust="spacingAndGlyphs">1900+14</tspan></text>
<text y="443.4" font-size="12.0" fill="#111" stroke="#111" stroke-width="0.65" stroke-linejoin="round" xml:space="preserve"><tspan x="99.7" textLength="28.9" lengthAdjust="spacingAndGlyphs">High</tspan><tspan x="128.6" textLength="3.8" lengthAdjust="spacingAndGlyphs"> </tspan><tspan x="132.4" textLength="33.4" lengthAdjust="spacingAndGlyphs">Burst</tspan></text>
<text y="459.5" font-size="12.0" fill="#111" stroke="#111" stroke-width="0.65" stroke-linejoin="round" xml:space="preserve"><tspan x="127.6" textLength="38.0" lengthAdjust="spacingAndGlyphs">Phase</tspan></text>
<text y="550.1" font-size="12.0" fill="#1a2232" stroke="#1a2232" stroke-width="0.45" stroke-linejoin="round" xml:space="preserve"><tspan x="308.9" textLength="25.4" lengthAdjust="spacingAndGlyphs">Low</tspan><tspan x="334.3" textLength="4.5" lengthAdjust="spacingAndGlyphs"> </tspan><tspan x="338.8" textLength="32.4" lengthAdjust="spacingAndGlyphs">Burst</tspan><tspan x="371.2" textLength="4.0" lengthAdjust="spacingAndGlyphs"> </tspan><tspan x="375.2" textLength="38.2" lengthAdjust="spacingAndGlyphs">Phase</tspan></text>
<text y="646.2" font-size="9.9" fill="#111" stroke="#111" stroke-width="0.55" stroke-linejoin="round" xml:space="preserve"><tspan x="471.8" textLength="21.2" lengthAdjust="spacingAndGlyphs">High</tspan><tspan x="493.0" textLength="3.8" lengthAdjust="spacingAndGlyphs"> </tspan><tspan x="496.8" textLength="27.2" lengthAdjust="spacingAndGlyphs">Burst</tspan><tspan x="524.0" textLength="3.3" lengthAdjust="spacingAndGlyphs"> </tspan><tspan x="527.3" textLength="28.4" lengthAdjust="spacingAndGlyphs">Phase</tspan></text>
<text y="659.2" font-size="9.9" fill="#111" stroke="#111" stroke-width="0.55" stroke-linejoin="round" xml:space="preserve"><tspan x="524.4" textLength="31.0" lengthAdjust="spacingAndGlyphs">Cutoff</tspan></text>
</g>
</svg></body></html>
